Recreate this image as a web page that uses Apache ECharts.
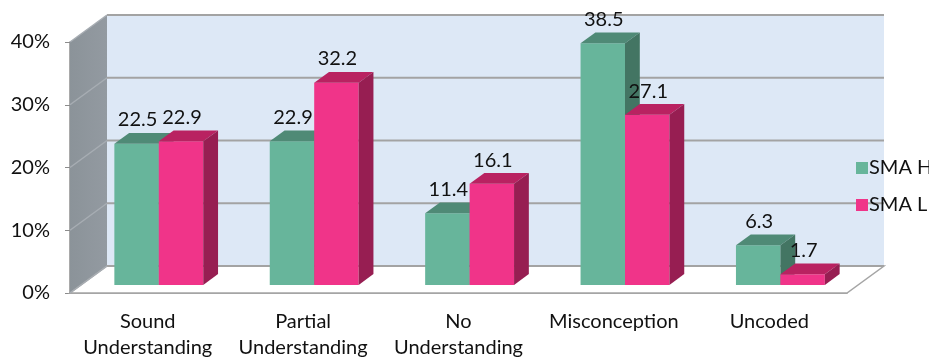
<!DOCTYPE html>
<html lang="en">
<head>
<meta charset="UTF-8">
<title>SMA H / SMA L</title>
<script src="https://cdn.jsdelivr.net/npm/echarts@6/dist/echarts.min.js"></script>
<style>
  html, body { margin: 0; padding: 0; background: #fff; }
  #container { width: 929px; height: 361px; }
</style>
</head>
<body>
<div id="container"></div>
<script type="text/javascript">
// data
var categories = ['Sound\nUnderstanding', 'Partial\nUnderstanding', 'No\nUnderstanding', 'Misconception', 'Uncoded'];
var smaH = [22.5, 22.9, 11.4, 38.5, 6.3];
var smaL = [22.9, 32.2, 16.1, 27.1, 1.7];
var yTicks = [0, 10, 20, 30, 40];
var seriesNames = ['SMA H', 'SMA L'];

// 3d look
var DX = 37, DY = -27;          // depth of the box, front -> back
var BAR_FRONT = 0.3, BAR_DEPTH = 0.4;
var BAR_W = 0.286;              // share of a category band
var FONT = 'Lato, "Open Sans", sans-serif';

var faces = {
  'SMA H': { front: '#67b59b', top: '#4f8a76', side: '#437563' },
  'SMA L': { front: '#f03489', top: '#b92261', side: '#971e52' }
};

var dom = document.getElementById('container');
var myChart = echarts.init(dom);

// back wall, left wall, floor and grid lines
function renderWalls(params, api) {
  var bw = api.size([1, 0])[0];
  var x0 = api.coord([0, 0])[0] - bw / 2;
  var x1 = api.coord([categories.length - 1, 0])[0] + bw / 2;
  var y0 = api.coord([0, yTicks[0]])[1];
  var yTop = api.coord([0, yTicks[yTicks.length - 1]])[1];
  var kids = [];
  // back wall
  kids.push({ type: 'polygon', shape: { points: [[x0 + DX, yTop + DY], [x1 + DX, yTop + DY], [x1 + DX, y0 + DY], [x0 + DX, y0 + DY]] },
    style: { fill: '#dde8f6' } });
  // left wall
  kids.push({ type: 'polygon', shape: { points: [[x0, yTop], [x0 + DX, yTop + DY], [x0 + DX, y0 + DY], [x0, y0]] },
    style: { fill: new echarts.graphic.LinearGradient(0, 0, 1, 0, [{ offset: 0, color: '#8b9399' }, { offset: 1, color: '#939aa1' }]) } });
  // floor
  kids.push({ type: 'polygon', shape: { points: [[x0, y0], [x1, y0], [x1 + DX, y0 + DY], [x0 + DX, y0 + DY]] },
    style: { fill: '#ffffff', stroke: '#a5a5a5', lineWidth: 1.5 } });
  yTicks.forEach(function (t) {
    var y = api.coord([0, t])[1];
    kids.push({ type: 'line', shape: { x1: x0 + DX, y1: y + DY, x2: x1 + DX, y2: y + DY },
      style: { stroke: '#a3a3a3', lineWidth: 2 } });
    kids.push({ type: 'line', shape: { x1: x0, y1: y, x2: x0 + DX, y2: y + DY },
      style: { stroke: '#a7adb3', lineWidth: 1.5 } });
  });
  return { type: 'group', children: kids };
}

function makeBarRenderer(name, slot) {
  return function (params, api) {
    var cat = api.value(0), val = api.value(1);
    var base = api.coord([cat, 0]);
    var top = api.coord([cat, val]);
    var bw = api.size([1, 0])[0];
    var w = bw * BAR_W;
    var fx = DX * BAR_FRONT, fy = DY * BAR_FRONT;
    var ddx = DX * BAR_DEPTH, ddy = DY * BAR_DEPTH;
    var xl = base[0] + fx + (slot === 0 ? -w : 0);
    var xr = xl + w;
    var yb = base[1] + fy;
    var yt = top[1] + fy;
    var c = faces[name];
    return {
      type: 'group',
      children: [
        { type: 'rect', shape: { x: xl, y: yt, width: w, height: yb - yt }, style: { fill: c.front } },
        { type: 'polygon', shape: { points: [[xl, yt], [xr, yt], [xr + ddx, yt + ddy], [xl + ddx, yt + ddy]] }, style: { fill: c.top } },
        { type: 'polygon', shape: { points: [[xr, yt], [xr + ddx, yt + ddy], [xr + ddx, yb + ddy], [xr, yb]] }, style: { fill: c.side } },
        { type: 'text', style: { text: val.toFixed(1), x: (xl + xr) / 2 + 1, y: yt + ddy - 3,
          textAlign: 'center', textVerticalAlign: 'bottom', fill: '#111', font: '20px ' + FONT } }
      ]
    };
  };
}

var option = {
  animation: false,
  grid: { left: 70, right: 82, top: 42, bottom: 66 },
  legend: {
    orient: 'vertical',
    left: 851,
    top: 153,
    itemWidth: 12,
    itemHeight: 12,
    itemGap: 17,
    icon: 'rect',
    data: seriesNames,
    textStyle: { fontFamily: FONT, fontSize: 20, color: '#111', padding: [0, 0, 0, -4] }
  },
  xAxis: {
    type: 'category',
    data: categories,
    axisLine: { lineStyle: { color: '#8c8c8c', width: 1.5 } },
    axisTick: { length: 6, lineStyle: { color: '#8c8c8c' } },
    axisLabel: { margin: 16, fontFamily: FONT, fontSize: 20, color: '#111', lineHeight: 26, interval: 0 }
  },
  yAxis: {
    type: 'value',
    min: 0, max: 40, interval: 10,
    axisLine: { show: true, lineStyle: { color: '#8c8c8c', width: 1.5 } },
    axisTick: { show: true, length: 5, lineStyle: { color: '#8c8c8c' } },
    splitLine: { show: false },
    axisLabel: { formatter: '{value}%', margin: 20, fontFamily: FONT, fontSize: 20, color: '#111' }
  },
  series: [
    { type: 'custom', name: 'walls', silent: true, clip: false, renderItem: renderWalls, data: [[0, 0]], z: 1 },
    { type: 'custom', name: seriesNames[0], clip: false, itemStyle: { color: faces['SMA H'].front },
      renderItem: makeBarRenderer('SMA H', 0), encode: { x: 0, y: 1 },
      data: smaH.map(function (v, i) { return [i, v]; }), z: 2 },
    { type: 'custom', name: seriesNames[1], clip: false, itemStyle: { color: faces['SMA L'].front },
      renderItem: makeBarRenderer('SMA L', 1), encode: { x: 0, y: 1 },
      data: smaL.map(function (v, i) { return [i, v]; }), z: 3 }
  ]
};

if (option && typeof option === 'object') {
  myChart.setOption(option, true);
}
</script>
</body>
</html>
